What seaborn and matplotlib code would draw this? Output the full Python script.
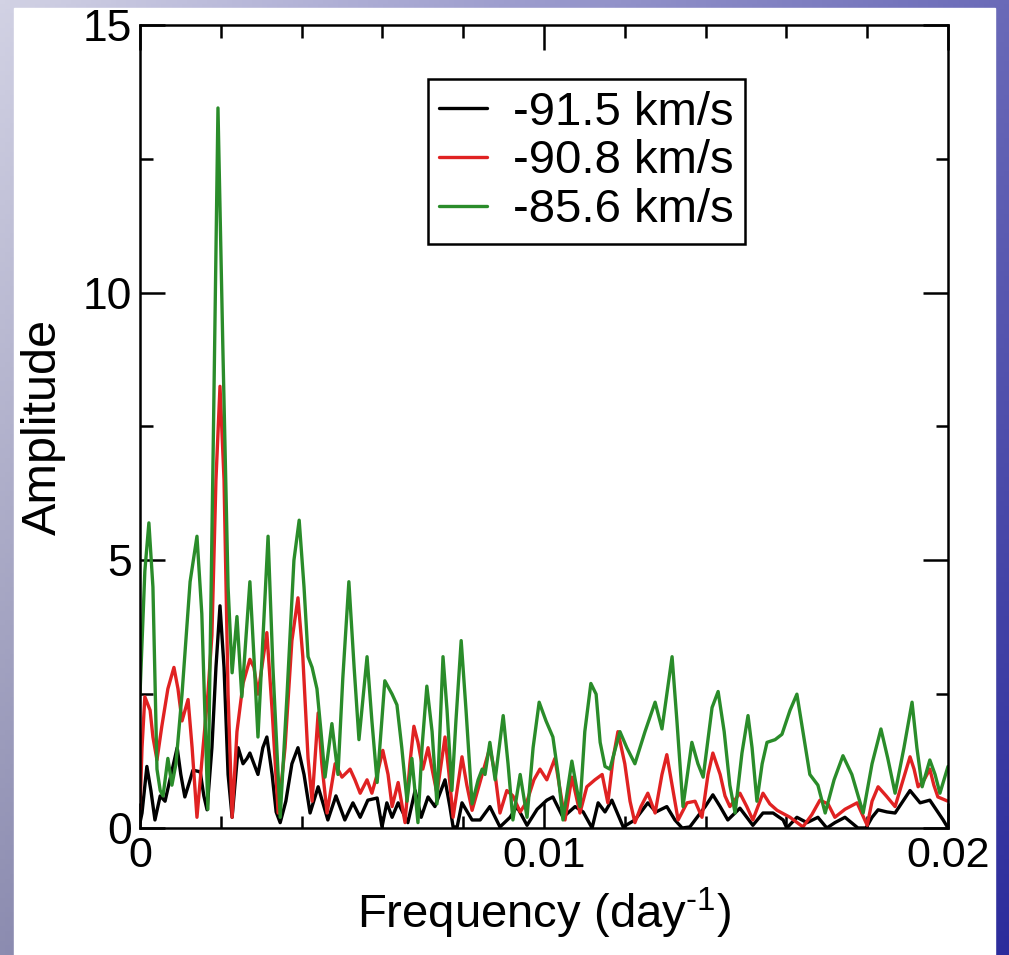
import numpy as np
import pandas as pd
import matplotlib
matplotlib.use("Agg")
import matplotlib.pyplot as plt
from matplotlib.ticker import MultipleLocator
import seaborn as sns

# ---------------- data ----------------
labels = ["-91.5 km/s", "-90.8 km/s", "-85.6 km/s"]
colors = ["#000000", "#e02222", "#2a8c2a"]

freq_black = [0, 0.00005, 0.00017, 0.00027, 0.00037, 0.00050, 0.00062, 0.00077, 0.00092, 0.00101,
              0.00111, 0.00124, 0.00131, 0.00149, 0.00158, 0.00166, 0.00178, 0.00188, 0.00198, 0.00208,
              0.00218, 0.00228, 0.00243, 0.00255, 0.00265, 0.00272, 0.00282, 0.00292, 0.00304, 0.00314,
              0.00327, 0.00337, 0.00347, 0.00361, 0.00376, 0.00391, 0.00406, 0.00421, 0.00441, 0.00465,
              0.00485, 0.00507, 0.00527, 0.00545, 0.00564, 0.00587, 0.00599, 0.00611, 0.00624, 0.00639,
              0.00663, 0.00681, 0.00696, 0.00713, 0.00730, 0.00755, 0.00767, 0.00775, 0.00785, 0.00797,
              0.00822, 0.00842, 0.00866, 0.00891, 0.00916, 0.00933, 0.00958, 0.00983, 0.01007, 0.01022,
              0.01047, 0.01077, 0.01097, 0.01119, 0.01134, 0.01151, 0.01168, 0.01196, 0.01225, 0.01257,
              0.01277, 0.01304, 0.01324, 0.01342, 0.01361, 0.01399, 0.01418, 0.01436, 0.01455, 0.01485,
              0.01517, 0.01542, 0.01567, 0.01592, 0.01601, 0.01626, 0.01651, 0.01678, 0.01700, 0.01720,
              0.01745, 0.01777, 0.01797, 0.01812, 0.01827, 0.01849, 0.01869, 0.01906, 0.01931, 0.01955,
              0.01988, 0.02000]
amp_black = [0.1, 0.28, 1.15, 0.7, 0.15, 0.6, 0.5, 1.0, 1.5, 1.0,
             0.58, 0.9, 1.08, 1.05, 0.6, 0.34, 1.5, 3.0, 4.15, 3.0,
             1.0, 0.2, 1.5, 1.2, 1.3, 1.4, 1.2, 1.0, 1.5, 1.7,
             1.0, 0.3, 0.1, 0.5, 1.2, 1.5, 1.0, 0.28, 0.77, 0.15,
             0.6, 0.15, 0.47, 0.2, 0.52, 0.56, 0.02, 0.47, 0.2, 0.47,
             0.1, 0.7, 0.2, 0.58, 0.4, 0.9, 0.4, 0.02, 0.02, 0.47,
             0.15, 0.15, 0.4, 0.02, 0.2, 0.4, 0.05, 0.35, 0.52, 0.58,
             0.2, 0.4, 0.3, 0.0, 0.47, 0.3, 0.52, 0.02, 0.15, 0.47,
             0.3, 0.4, 0.15, 0.0, 0.02, 0.4, 0.62, 0.4, 0.15, 0.37,
             0.05, 0.28, 0.28, 0.15, 0.0, 0.2, 0.1, 0.2, 0.0, 0.1,
             0.2, 0.0, 0.0, 0.2, 0.34, 0.3, 0.28, 0.7, 0.47, 0.52,
             0.15, 0.0]

freq_red = [0, 0.00005, 0.00012, 0.00025, 0.00032, 0.00042, 0.00054, 0.00069, 0.00084, 0.00094,
            0.00104, 0.00119, 0.00129, 0.00141, 0.00156, 0.00168, 0.00178, 0.00188, 0.00198, 0.00208,
            0.00218, 0.00228, 0.00240, 0.00255, 0.00272, 0.00282, 0.00292, 0.00314, 0.00327, 0.00342,
            0.00359, 0.00376, 0.00391, 0.00403, 0.00416, 0.00426, 0.00441, 0.00450, 0.00463, 0.00483,
            0.00500, 0.00520, 0.00532, 0.00545, 0.00562, 0.00574, 0.00587, 0.00601, 0.00614, 0.00624,
            0.00639, 0.00656, 0.00668, 0.00678, 0.00688, 0.00700, 0.00713, 0.00723, 0.00735, 0.00755,
            0.00765, 0.00775, 0.00797, 0.00809, 0.00822, 0.00847, 0.00866, 0.00879, 0.00891, 0.00908,
            0.00923, 0.00941, 0.00958, 0.00975, 0.00990, 0.01007, 0.01027, 0.01040, 0.01052, 0.01069,
            0.01089, 0.01106, 0.01126, 0.01144, 0.01158, 0.01171, 0.01183, 0.01200, 0.01213, 0.01225,
            0.01240, 0.01257, 0.01275, 0.01292, 0.01304, 0.01317, 0.01332, 0.01354, 0.01374, 0.01391,
            0.01406, 0.01418, 0.01436, 0.01448, 0.01460, 0.01485, 0.01502, 0.01517, 0.01542, 0.01559,
            0.01577, 0.01609, 0.01641, 0.01663, 0.01683, 0.01703, 0.01720, 0.01745, 0.01775, 0.01800,
            0.01812, 0.01827, 0.01847, 0.01869, 0.01889, 0.01906, 0.01916, 0.01926, 0.01941, 0.01955,
            0.01965, 0.01975, 0.02000]
amp_red = [0.35, 1.5, 2.45, 2.2, 1.7, 1.27, 1.9, 2.6, 3.0, 2.6,
           2.0, 2.4, 1.5, 0.2, 1.5, 2.5, 3.6, 6.5, 8.25, 6.5,
           2.5, 0.2, 1.8, 2.7, 3.15, 3.0, 2.5, 3.65, 2.2, 0.28,
           1.5, 3.5, 4.3, 3.2, 1.3, 0.5, 2.15, 1.2, 0.28, 1.2,
           0.95, 1.1, 0.9, 0.65, 0.9, 0.65, 1.0, 1.45, 1.0, 0.4,
           0.85, 0.1, 1.2, 1.9, 1.6, 1.1, 1.5, 1.1, 0.65, 1.7,
           1.0, 0.2, 1.33, 0.8, 0.33, 1.0, 1.5, 1.0, 0.28, 0.7,
           0.6, 0.3, 0.5, 0.9, 1.1, 0.9, 1.3, 0.7, 0.15, 0.95,
           0.28, 0.77, 0.9, 1.0, 0.47, 1.3, 1.8, 1.2, 0.5, 0.1,
           0.4, 0.65, 0.28, 1.0, 1.37, 0.8, 0.15, 0.47, 0.5, 0.2,
           1.0, 1.4, 1.0, 0.6, 0.4, 0.65, 0.4, 0.15, 0.65, 0.45,
           0.33, 0.2, 0.02, 0.25, 0.52, 0.45, 0.2, 0.35, 0.47, 0.05,
           0.5, 0.77, 0.6, 0.4, 0.9, 1.33, 1.1, 0.77, 0.9, 1.1,
           0.8, 0.58, 0.5]

freq_green = [0, 0.00012, 0.00022, 0.00032, 0.00042, 0.00050, 0.00057, 0.00069, 0.00079, 0.00089,
              0.00104, 0.00124, 0.00141, 0.00153, 0.00168, 0.00181, 0.00193, 0.00205, 0.00218, 0.00228,
              0.00240, 0.00252, 0.00272, 0.00282, 0.00292, 0.00304, 0.00317, 0.00329, 0.00347, 0.00364,
              0.00381, 0.00394, 0.00406, 0.00416, 0.00426, 0.00438, 0.00448, 0.00458, 0.00475, 0.00490,
              0.00502, 0.00517, 0.00530, 0.00542, 0.00562, 0.00574, 0.00587, 0.00606, 0.00624, 0.00636,
              0.00648, 0.00661, 0.00673, 0.00688, 0.00698, 0.00710, 0.00723, 0.00735, 0.00750, 0.00760,
              0.00772, 0.00782, 0.00795, 0.00807, 0.00822, 0.00837, 0.00847, 0.00854, 0.00866, 0.00879,
              0.00899, 0.00911, 0.00923, 0.00941, 0.00958, 0.00973, 0.00988, 0.01005, 0.01022, 0.01035,
              0.01047, 0.01069, 0.01089, 0.01101, 0.01116, 0.01129, 0.01139, 0.01151, 0.01163, 0.01188,
              0.01205, 0.01225, 0.01250, 0.01275, 0.01292, 0.01317, 0.01329, 0.01344, 0.01366, 0.01381,
              0.01394, 0.01416, 0.01431, 0.01446, 0.01460, 0.01473, 0.01490, 0.01505, 0.01515, 0.01527,
              0.01540, 0.01552, 0.01572, 0.01589, 0.01609, 0.01626, 0.01641, 0.01658, 0.01678, 0.01696,
              0.01718, 0.01740, 0.01762, 0.01790, 0.01812, 0.01834, 0.01851, 0.01869, 0.01891, 0.01911,
              0.01923, 0.01936, 0.01955, 0.01968, 0.01980, 0.02000]
amp_green = [2.5, 4.8, 5.7, 4.5, 1.1, 0.7, 0.6, 1.3, 0.8, 1.2,
             2.5, 4.6, 5.45, 4.0, 0.35, 7.0, 13.45, 9.0, 4.5, 2.9,
             3.95, 2.45, 4.6, 3.2, 1.7, 3.5, 5.45, 3.0, 0.2, 2.5,
             5.0, 5.75, 4.5, 3.2, 3.0, 2.6, 1.8, 0.95, 1.95, 1.0,
             2.8, 4.6, 3.0, 1.65, 3.2, 2.0, 0.85, 2.75, 2.5, 2.3,
             1.5, 0.5, 1.3, 0.1, 1.5, 2.65, 1.8, 0.45, 3.2, 2.2,
             0.7, 2.0, 3.5, 2.2, 0.45, 0.9, 1.1, 1.0, 1.6, 0.9,
             2.1, 1.2, 0.15, 1.0, 0.2, 1.5, 2.35, 2.0, 1.7, 1.0,
             0.15, 1.25, 0.4, 1.8, 2.7, 2.5, 1.6, 1.15, 1.1, 1.8,
             1.5, 1.2, 1.8, 2.35, 1.85, 3.2, 2.0, 0.4, 1.6, 1.2,
             0.95, 2.25, 2.55, 1.8, 0.8, 0.28, 1.4, 2.1, 1.5, 0.5,
             1.2, 1.6, 1.65, 1.75, 2.2, 2.5, 1.8, 1.0, 0.8, 0.28,
             0.9, 1.35, 1.0, 0.28, 1.2, 1.85, 1.3, 0.65, 1.5, 2.35,
             1.5, 0.77, 1.27, 1.0, 0.65, 1.15]

x_ticks = [0, 0.01, 0.02]
x_ticklabels = ["0", "0.01", "0.02"]
y_ticks = [0, 5, 10, 15]

# ---------------- style ----------------
sns.set_style("ticks")
plt.rcParams["font.family"] = ["Liberation Sans", "DejaVu Sans"]
plt.rcParams["mathtext.fontset"] = "custom"
plt.rcParams["mathtext.rm"] = "Liberation Sans"
plt.rcParams["mathtext.it"] = "Liberation Sans"
plt.rcParams["mathtext.bf"] = "Liberation Sans"
plt.rcParams["text.color"] = "black"
plt.rcParams["axes.labelcolor"] = "black"
plt.rcParams["xtick.color"] = "black"
plt.rcParams["ytick.color"] = "black"

W, H = 1009, 955
fig = plt.figure(figsize=(W / 100, H / 100), dpi=100)

# background gradient frame
bg = fig.add_axes([0, 0, 1, 1], zorder=0)
bg.set_axis_off()
tl = np.array([0xd2, 0xd2, 0xe4]) / 255
tr = np.array([0x6a, 0x6a, 0xb8]) / 255
bl = np.array([0x8c, 0x8c, 0xb0]) / 255
br = np.array([0x2c, 0x2c, 0x9c]) / 255
gx = np.linspace(0, 1, 200)[None, :, None]
gy = np.linspace(0, 1, 200)[:, None, None]
img = (1 - gy) * ((1 - gx) * tl + gx * tr) + gy * ((1 - gx) * bl + gx * br)
bg.imshow(img, extent=[0, 1, 0, 1], aspect="auto", origin="upper")
bg.add_patch(plt.Rectangle((14 / W, 0), (995 - 14) / W, (H - 8) / H,
                           color="white", transform=bg.transAxes))
bg.set_xlim(0, 1)
bg.set_ylim(0, 1)

ax = fig.add_axes([140 / W, 127 / H, 808 / W, 803 / H], zorder=2)
ax.set_facecolor("white")

series = [(freq_black, amp_black), (freq_red, amp_red), (freq_green, amp_green)]
for (fx, ay), lab, col in zip(series, labels, colors):
    df = pd.DataFrame({"freq": fx, "amp": ay})
    sns.lineplot(data=df, x="freq", y="amp", color=col, label=lab, ax=ax,
                 linewidth=2.4, sort=False, estimator=None)

ax.set_xlim(0, 0.02)
ax.set_ylim(0, 15)
ax.set_xticks(x_ticks)
ax.set_xticklabels(x_ticklabels)
ax.set_yticks(y_ticks)
ax.xaxis.set_minor_locator(MultipleLocator(0.002))
ax.yaxis.set_minor_locator(MultipleLocator(2.5))
ax.tick_params(which="both", direction="in", top=True, right=True,
               width=1.8, color="black", pad=6)
ax.tick_params(axis="x", labelsize=31)
ax.tick_params(axis="y", labelsize=32)
ax.tick_params(which="major", length=18)
ax.tick_params(which="minor", length=9)
for sp in ax.spines.values():
    sp.set_linewidth(1.8)
    sp.set_color("black")
    sp.set_visible(True)

ax.set_xlabel("Frequency (day$^{\\mathrm{\u2010}1}$)", fontsize=34, labelpad=7)
ax.set_ylabel("Amplitude", fontsize=35, labelpad=12)

leg = ax.legend(loc="upper left", bbox_to_anchor=(0.356, 0.9328), borderaxespad=0,
                fontsize=34, frameon=True, fancybox=False, framealpha=1,
                handlelength=1.0, handletextpad=0.55, labelspacing=0.1,
                borderpad=0.25)
leg.get_frame().set_edgecolor("black")
leg.get_frame().set_linewidth(1.8)
for line in leg.get_lines():
    line.set_linewidth(2.4)

fig.savefig("out.png", dpi=100)
